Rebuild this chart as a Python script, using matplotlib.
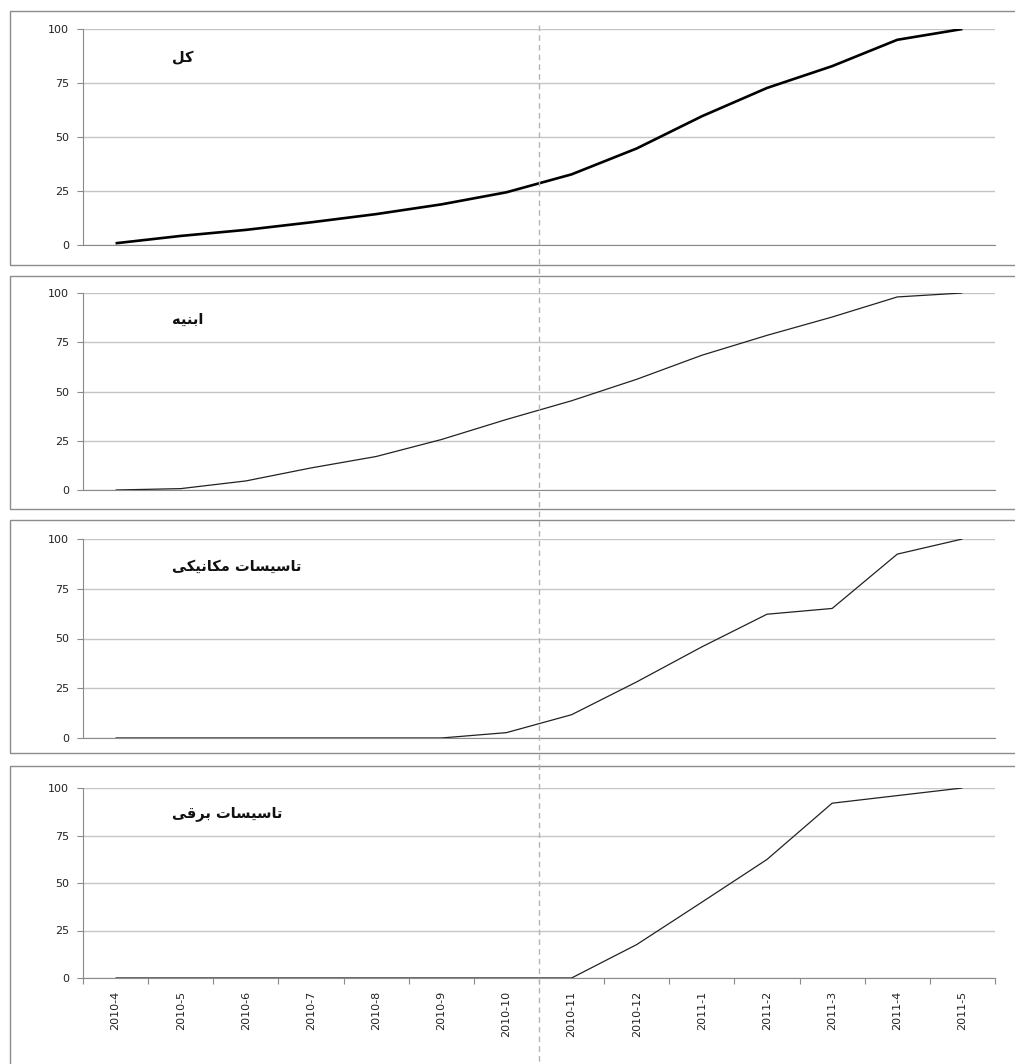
import matplotlib
matplotlib.use("Agg")
import matplotlib.pyplot as plt
from matplotlib.lines import Line2D
from matplotlib.patches import Rectangle

months = ["2010-4", "2010-5", "2010-6", "2010-7", "2010-8", "2010-9", "2010-10",
          "2010-11", "2010-12", "2011-1", "2011-2", "2011-3", "2011-4", "2011-5"]

total = [0.8, 4.2, 7.0, 10.5, 14.3, 18.8, 24.4, 32.7, 44.7, 59.6, 72.7, 82.8, 95.0, 100]
buildings = [0, 0.7, 4.6, 11.2, 17.0, 25.6, 35.8, 45.3, 56.2, 68.4, 78.5, 87.8, 98.0, 100]
mechanical = [0, 0, 0, 0, 0, 0, 2.7, 11.7, 28.2, 45.8, 62.2, 65.1, 92.4, 100]
electrical = [0, 0, 0, 0, 0, 0, 0, 0, 17.6, 39.9, 62.4, 92.0, 96.0, 100]

# Persian titles (visual order, presentation forms for unshaped renderer)
# کل / ابنیه / تاسیسات مکانیکی / تاسیسات برقی
t_total = "\uFEDE\uFB90"
t_build = "\uFEEA\uFBFF\uFEE8\uFE91\uFE8D"
t_tasisat = "\uFE95\uFE8E\uFEB4\uFBFF\uFEB3\uFE8E\uFE97"
t_mech = "\uFBFD\uFB91\uFBFF\uFEE7\uFE8E\uFB91\uFEE3" + " " + t_tasisat
t_elec = "\uFBFD\uFED7\uFEAE\uFE91" + " " + t_tasisat

series = [total, buildings, mechanical, electrical]
titles = [t_total, t_build, t_mech, t_elec]
widths = [1.9, 0.9, 0.9, 0.9]
colors = ["black", "#222222", "#222222", "#222222"]

W, H = 1015, 1064
fig = plt.figure(figsize=(W / 100, H / 100), dpi=100)
fig.patch.set_facecolor("white")

# axes rectangles in pixels: (top, bottom)
ax_px = [(29, 245), (293, 490), (539, 738), (788, 978)]
box_px = [(11, 265), (276, 509), (520, 753), (766, 1080)]
left_px, right_px = 83, 995

grid_c = "#c6c6c6"
axis_c = "#8a8a8a"

axes = []
for k, ((t, b), (bt, bb)) in enumerate(zip(ax_px, box_px)):
    # panel border
    fig.patches.append(Rectangle((10 / W, 1 - bb / H), (W + 20) / W, (bb - bt) / H,
                                 transform=fig.transFigure, fill=False,
                                 edgecolor="#8c8c8c", linewidth=1.0, zorder=0))
    ax = fig.add_axes([left_px / W, 1 - b / H, (right_px - left_px) / W, (b - t) / H])
    axes.append(ax)
    x = list(range(len(months)))
    ax.plot(x, series[k], color=colors[k], linewidth=widths[k], solid_capstyle="butt",
            zorder=3)
    ax.set_xlim(-0.5, len(months) - 0.5)
    ax.set_ylim(0, 100)
    ax.set_yticks([0, 25, 50, 75, 100])
    ax.grid(axis="y", color=grid_c, linewidth=1.0)
    ax.set_axisbelow(True)
    for s in ["top", "right"]:
        ax.spines[s].set_visible(False)
    ax.spines["left"].set_color(axis_c)
    ax.spines["bottom"].set_color(axis_c)
    ax.tick_params(axis="y", direction="out", length=4, color=axis_c, labelsize=8,
                   labelcolor="#222222", pad=6)
    ax.patch.set_alpha(0)
    if k < 3:
        ax.set_xticks([])
    else:
        ax.set_xticks([i + 0.5 for i in range(-1, len(months))], minor=False)
        ax.set_xticklabels([])
        ax.tick_params(axis="x", direction="out", length=4, color=axis_c)
        ax.set_xticks(x, minor=True)
        ax.set_xticklabels(months, minor=True, rotation=90, fontsize=8, color="#222222")
        ax.tick_params(axis="x", which="minor", length=0, pad=9)
    ax.text(0.098, 0.865, titles[k], transform=ax.transAxes, fontsize=10.5,
            fontweight="bold", family=["DejaVu Sans"], ha="left", va="center",
            color="#111111")

# dashed reference line between 2010-10 and 2010-11, through all panels
fig.canvas.draw()
p0 = axes[0].transData.transform((6.5, 0))
xf = fig.transFigure.inverted().transform(p0)[0]
fig.add_artist(Line2D([xf, xf], [1 - 25 / H, 0], transform=fig.transFigure,
                      color="#b4b4b4", linewidth=1.0, linestyle=(0, (4, 3)), zorder=5))

fig.savefig("out.png", dpi=100, facecolor="white")
